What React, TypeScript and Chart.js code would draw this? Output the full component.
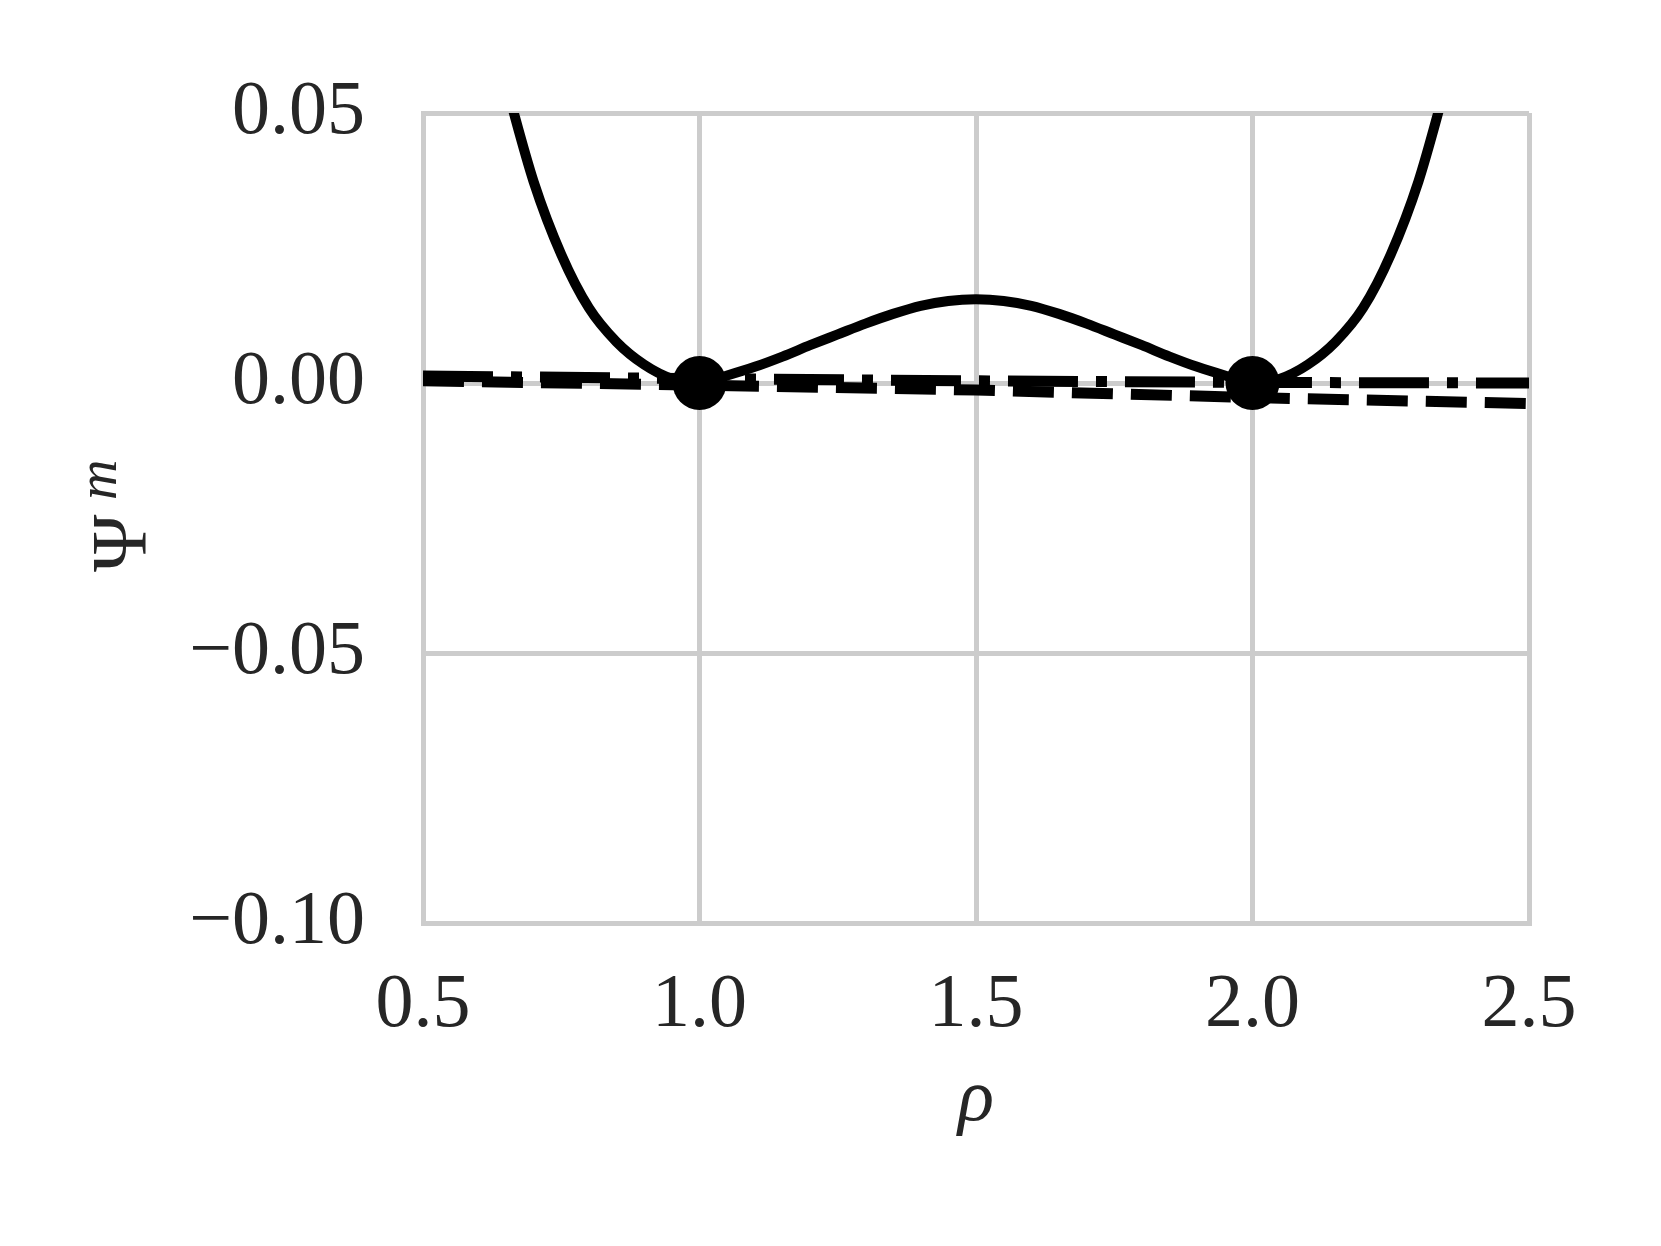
import React, { useEffect, useRef } from "react";
import { Chart, registerables } from "chart.js";

Chart.register(...registerables);

// ---- data ----
const curveX = [
  0.65, 0.7, 0.75, 0.8, 0.85, 0.9, 0.95, 1.0, 1.05, 1.1, 1.15, 1.2, 1.25, 1.3,
  1.35, 1.4, 1.45, 1.5, 1.55, 1.6, 1.65, 1.7, 1.75, 1.8, 1.85, 1.9, 1.95, 2.0,
  2.05, 2.1, 2.15, 2.2, 2.25, 2.3, 2.35,
];
const curveY = [
  0.0553, 0.0373, 0.0238, 0.0139, 0.0076, 0.0034, 0.0008, 0.0, 0.0014, 0.003,
  0.0049, 0.007, 0.009, 0.011, 0.0128, 0.0143, 0.0152, 0.0155, 0.0152,
  0.0143, 0.0128, 0.011, 0.009, 0.007, 0.0049, 0.003, 0.0014, 0.0, 0.0008,
  0.0034, 0.0076, 0.0139, 0.0238, 0.0373, 0.0553,
];

const lineX = [0.5, 1.0, 1.5, 2.0, 2.5];
const dashedY = [0.0004, -0.0004, -0.0013, -0.0027, -0.0038];
const dashDotY = [0.0013, 0.0008, 0.0004, 0.0001, 0.0];

const dotsX = [1.0, 2.0];
const dotsY = [0.0, 0.0];

const xTickValues = [0.5, 1.0, 1.5, 2.0, 2.5];
const xTickLabels = ["0.5", "1.0", "1.5", "2.0", "2.5"];
const yTickValues = [-0.1, -0.05, 0.0, 0.05];
const yTickLabels = ["\u22120.10", "\u22120.05", "0.00", "0.05"];

const xTitle = "\u03C1";
const yTitleMain = "\u03A8";
const yTitleSup = "m";

const SERIF = "'Liberation Serif', 'Times New Roman', serif";
const TEXT = "#262626";
const GRID = "#cccccc";

const toPoints = (xs: number[], ys: number[]) =>
  xs.map((x, i) => ({ x, y: ys[i] }));

const titlePlugin = {
  id: "axisTitles",
  afterDraw(chart: any) {
    const ctx = chart.ctx as CanvasRenderingContext2D;
    const a = chart.chartArea;
    ctx.save();
    ctx.fillStyle = TEXT;
    ctx.font = `italic 75px ${SERIF}`;
    ctx.textAlign = "center";
    ctx.textBaseline = "alphabetic";
    ctx.fillText(xTitle, (a.left + a.right) / 2, a.bottom + 197);

    ctx.translate(145, (a.top + a.bottom) / 2 + 54);
    ctx.rotate(-Math.PI / 2);
    ctx.textAlign = "left";
    ctx.font = `78px ${SERIF}`;
    ctx.fillText(yTitleMain, 0, 0);
    ctx.font = `italic 56px ${SERIF}`;
    ctx.fillText(yTitleSup, 72, -29);
    ctx.restore();
  },
};

export default function App() {
  const ref = useRef<HTMLCanvasElement | null>(null);

  useEffect(() => {
    document.body.style.margin = "0";
    const canvas = ref.current;
    if (!canvas) return;
    const tickFont = { family: SERIF, size: 76 };
    const chart = new Chart(canvas, {
      type: "scatter",
      data: {
        datasets: [
          {
            data: toPoints(dotsX, dotsY),
            showLine: false,
            pointRadius: 27,
            pointBackgroundColor: "#000000",
            pointBorderWidth: 0,
            clip: false as any,
            order: 0,
          },
          {
            data: toPoints(curveX, curveY),
            showLine: true,
            borderColor: "#000000",
            borderWidth: 10,
            pointRadius: 0,
            cubicInterpolationMode: "monotone",
            clip: 0,
            order: 1,
          },
          {
            data: toPoints(lineX, dashDotY),
            showLine: true,
            borderColor: "#000000",
            borderWidth: 11,
            borderDash: [70, 18, 11, 18],
            borderCapStyle: "butt",
            pointRadius: 0,
            clip: 0,
            order: 2,
          },
          {
            data: toPoints(lineX, dashedY),
            showLine: true,
            borderColor: "#000000",
            borderWidth: 11,
            borderDash: [41, 18],
            borderCapStyle: "butt",
            pointRadius: 0,
            clip: 0,
            order: 3,
          },
        ] as any,
      },
      options: {
        responsive: false,
        animation: false,
        devicePixelRatio: 1,
        layout: { padding: { left: 0, top: 113, right: 132, bottom: 0 } },
        plugins: {
          legend: { display: false },
          tooltip: { enabled: false },
        },
        scales: {
          x: {
            type: "linear",
            min: 0.5,
            max: 2.5,
            afterBuildTicks: (s: any) => {
              s.ticks = xTickValues.map((value) => ({ value }));
            },
            afterFit: (s: any) => {
              s.height = 323;
            },
            ticks: {
              callback: (_v: any, i: number) => xTickLabels[i],
              font: tickFont,
              color: TEXT,
              padding: 37,
              maxRotation: 0,
              autoSkip: false,
            },
            grid: { color: GRID, lineWidth: 5, drawTicks: false },
            border: { display: true, color: GRID, width: 5 },
          },
          y: {
            type: "linear",
            min: -0.1,
            max: 0.05,
            afterBuildTicks: (s: any) => {
              s.ticks = yTickValues.map((value) => ({ value }));
            },
            afterFit: (s: any) => {
              s.width = 423;
            },
            ticks: {
              callback: (_v: any, i: number) => yTickLabels[i],
              font: tickFont,
              color: TEXT,
              padding: 58,
              autoSkip: false,
            },
            grid: { color: GRID, lineWidth: 5, drawTicks: false },
            border: { display: true, color: GRID, width: 5 },
          },
        },
      } as any,
      plugins: [titlePlugin],
    });
    return () => chart.destroy();
  }, []);

  return (
    <div style={{ width: 1661, height: 1246, overflow: "hidden", background: "#ffffff" }}>
      <canvas ref={ref} width={1661} height={1246} style={{ display: "block" }} />
    </div>
  );
}
